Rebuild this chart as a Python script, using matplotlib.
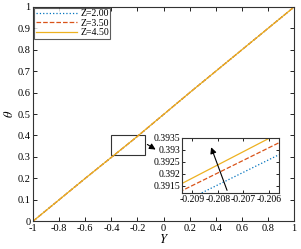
import matplotlib
matplotlib.use("Agg")
import matplotlib.pyplot as plt
from matplotlib.patches import Rectangle, FancyArrowPatch

plt.rcParams['font.family'] = ['Liberation Serif', 'DejaVu Serif']
plt.rcParams['mathtext.fontset'] = 'stix'

# data
Y = [-1.0, -0.6, -0.2094, -0.2056, 0.2, 0.6, 1.0]
theta_z200 = [0.0, 0.2, 0.3908, 0.3928, 0.6, 0.8, 1.0]
theta_z350 = [0.0, 0.2, 0.3913, 0.3933, 0.6, 0.8, 1.0]
theta_z450 = [0.0, 0.2, 0.3916, 0.3937, 0.6, 0.8, 1.0]
labels = ['Z=2.00', 'Z=3.50', 'Z=4.50']

colors = ['#0072BD', '#D95319', '#EDB120']
styles = [':', '--', '-']

fig = plt.figure(figsize=(3.01, 2.49), dpi=100)
ax = fig.add_axes([0.110, 0.112, 0.867, 0.860])

for th, lab, c, ls in zip([theta_z200, theta_z350, theta_z450], labels, colors, styles):
    ax.plot(Y, th, color=c, linestyle=ls, linewidth=0.9, label=lab)

ax.set_xlim(-1, 1)
ax.set_ylim(0, 1)
ax.set_xticks([-1, -0.8, -0.6, -0.4, -0.2, 0, 0.2, 0.4, 0.6, 0.8, 1])
ax.set_xticklabels(['-1', '-0.8', '-0.6', '-0.4', '-0.2', '0', '0.2', '0.4', '0.6', '0.8', '1'])
ax.set_yticks([0, 0.1, 0.2, 0.3, 0.4, 0.5, 0.6, 0.7, 0.8, 0.9, 1])
ax.set_yticklabels(['0', '0.1', '0.2', '0.3', '0.4', '0.5', '0.6', '0.7', '0.8', '0.9', '1'])
ax.tick_params(direction='in', top=True, right=True, labelsize=7.5, length=3, width=0.6, pad=2)
for s in ax.spines.values():
    s.set_linewidth(0.8)
    s.set_color('#333333')
ax.set_xlabel('$Y$', fontsize=9, labelpad=0)
ax.set_ylabel(r'$\theta$', fontsize=9, labelpad=1)

leg = ax.legend(loc='upper left', fontsize=7, frameon=True, fancybox=False,
                edgecolor='#333333', borderpad=0.15, labelspacing=0.05,
                handlelength=4.3, handletextpad=0.3, borderaxespad=0.1)
leg.get_frame().set_linewidth(0.8)

# zoom box on main axes
ax.add_patch(Rectangle((-0.405, 0.308), 0.263, 0.094, fill=False, edgecolor='#333333', linewidth=0.8))

# inset
axin = fig.add_axes([0.605, 0.225, 0.322, 0.221])
for th, c, ls in zip([theta_z200, theta_z350, theta_z450], colors, styles):
    axin.plot(Y, th, color=c, linestyle=ls, linewidth=0.9)
axin.set_xlim(-0.2094, -0.2056)
axin.set_ylim(0.3912, 0.3935)
axin.set_xticks([-0.209, -0.208, -0.207, -0.206])
axin.set_xticklabels(['-0.209', '-0.208', '-0.207', '-0.206'])
axin.set_yticks([0.3915, 0.392, 0.3925, 0.393, 0.3935])
axin.set_yticklabels(['0.3915', '0.392', '0.3925', '0.393', '0.3935'])
axin.tick_params(direction='in', top=True, right=True, labelsize=7, length=2.5, width=0.6, pad=1.5)
for s in axin.spines.values():
    s.set_linewidth(0.8)
    s.set_color('#333333')

# arrow inside inset
axin.annotate('', xy=(-0.2083, 0.39322), xytext=(-0.2076, 0.3912),
              arrowprops=dict(arrowstyle='-|>', color='black', lw=0.8, mutation_scale=9),
              annotation_clip=False)

# arrow from box to inset
fig.add_artist(FancyArrowPatch((145 / 301, 1 - 143 / 249), (158 / 301, 1 - 151 / 249),
                               transform=fig.transFigure, arrowstyle='-|>',
                               color='black', lw=0.8, mutation_scale=9))

fig.savefig('out.png', dpi=100)
